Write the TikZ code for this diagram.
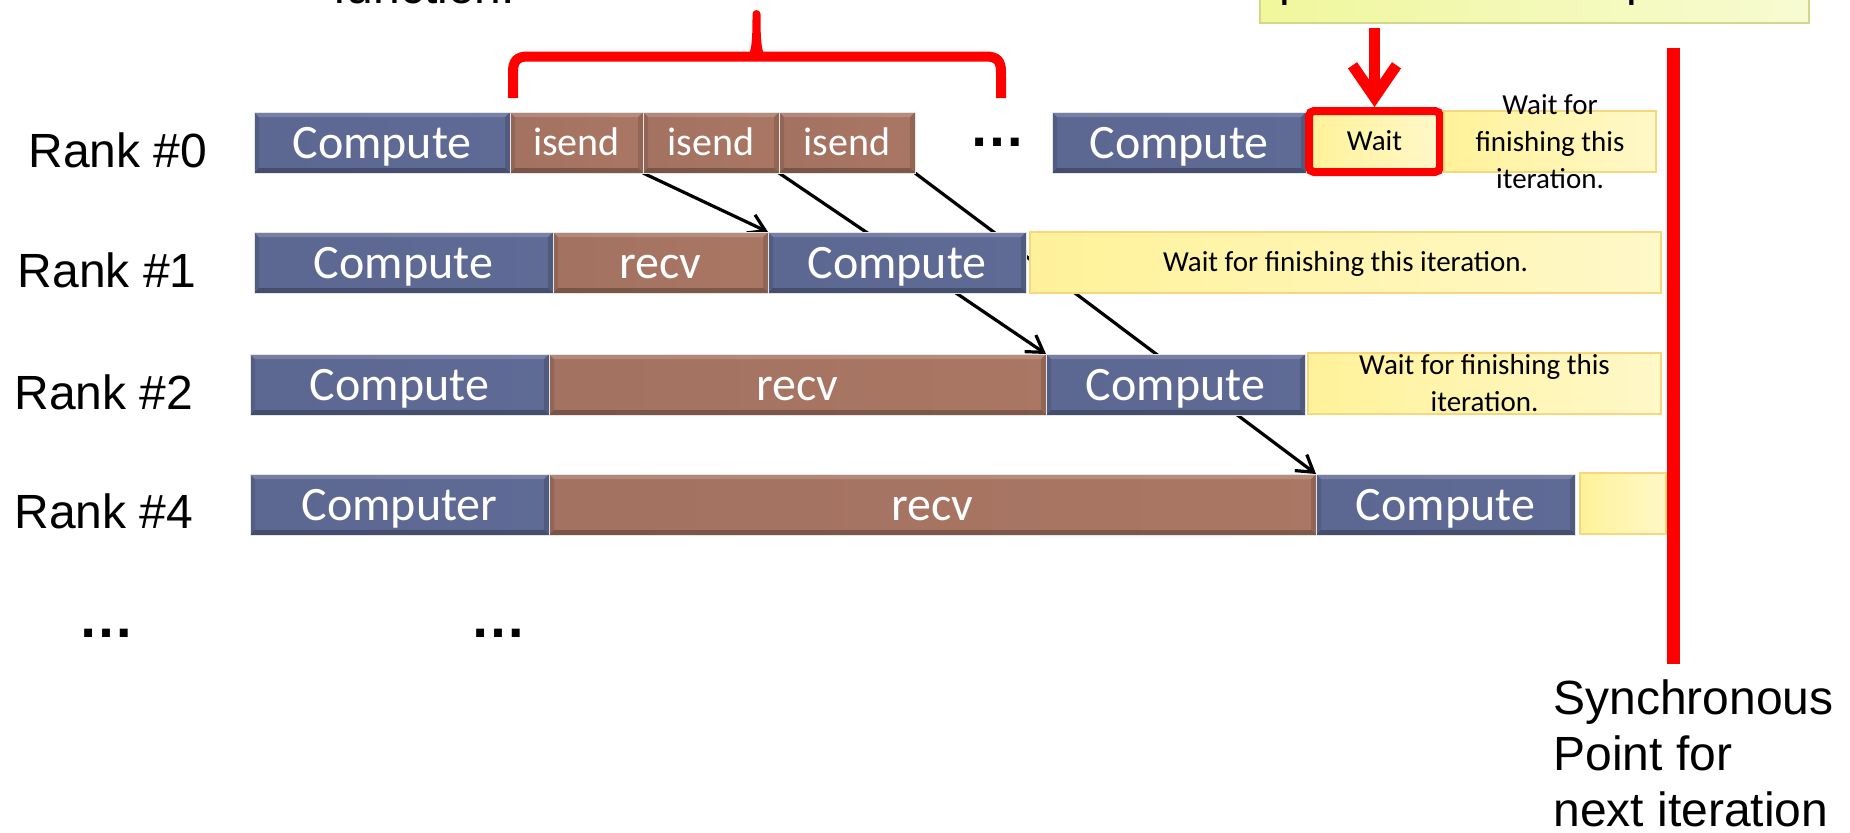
\documentclass[tikz,border=0pt]{standalone}
\usepackage{fontspec}
\setmainfont{Liberation Sans}
\newfontfamily\gill{Carlito}
\usetikzlibrary{arrows.meta}
\pgfdeclarelayer{bg}
\pgfsetlayers{bg,main}
\definecolor{cblue}{HTML}{6773A2}
\definecolor{cbrown}{HTML}{B9816D}
\definecolor{cyel}{HTML}{FFF29A}
\definecolor{cyel2}{HTML}{FFF8C8}
\definecolor{cyelb}{HTML}{F6D77C}
\definecolor{tbox}{HTML}{F0F79C}
\definecolor{tbox2}{HTML}{F7FBD2}
\definecolor{tboxb}{HTML}{D2D78A}
\definecolor{bred}{HTML}{FF0000}
\tikzset{
  bevel/.style={path picture={
    \path (path picture bounding box.south west) coordinate (pbsw)
          (path picture bounding box.north east) coordinate (pbne)
          (path picture bounding box.south east) coordinate (pbse)
          (path picture bounding box.north west) coordinate (pbnw);
    \fill[black,opacity=.25] (pbsw) -- (pbse) -- ([shift={(-2.5pt,2.5pt)}]pbse) -- ([shift={(2.5pt,2.5pt)}]pbsw) -- cycle;
    \fill[black,opacity=.14] (pbse) -- (pbne) -- ([shift={(-2.5pt,-2.5pt)}]pbne) -- ([shift={(-2.5pt,2.5pt)}]pbse) -- cycle;
    \fill[black,opacity=.10] (pbsw) -- (pbnw) -- ([shift={(2.5pt,-2.5pt)}]pbnw) -- ([shift={(2.5pt,2.5pt)}]pbsw) -- cycle;
    \fill[white,opacity=.16] (pbnw) -- (pbne) -- ([shift={(-2.5pt,-2.5pt)}]pbne) -- ([shift={(2.5pt,-2.5pt)}]pbnw) -- cycle;
  }},
  seg/.style={rectangle, inner sep=0pt, outer sep=0pt, draw=white!80!gray, line width=0.5pt, bevel,
    font=\gill\fontsize{24}{28}\selectfont, text=white, text height=15.5pt, text depth=0pt},
  comp/.style={seg, left color=cblue!90!black, middle color=cblue, right color=cblue!92!black},
  comm/.style={seg, left color=cbrown!88!black, middle color=cbrown, right color=cbrown!92!black},
  commsm/.style={comm, font=\gill\fontsize{20}{24}\selectfont, text height=13pt},
  ybox/.style={rectangle, inner sep=0pt, outer sep=0pt, draw=cyelb, line width=0.8pt,
    left color=cyel, right color=cyel2, text=black,
    font=\gill\fontsize{14.5}{18.5}\selectfont, text height=9.4pt, text depth=0pt},
  smalltxt/.style={font=\gill\fontsize{14.5}{18.5}\selectfont, align=center, inner sep=0pt, text=black},
  bigtxt/.style={font=\fontsize{24}{28}\selectfont, inner sep=0pt, text=black},
  dotstxt/.style={font=\bfseries\fontsize{28}{30}\selectfont, inner sep=0pt, text=black},
  ranklbl/.style={bigtxt, anchor=base west},
  msg/.style={draw=black, line width=1.6pt, -{Straight Barb[length=8pt,width=10pt]}},
  redarrow/.style={draw=bred, line width=5.5pt, -{Straight Barb[length=16pt,width=22pt]}},
}
\newcommand\blk[7]{\node[#6, minimum width={(#3-#2)*0.5pt}, minimum height={(#5-#4)*0.5pt}] (#1) at ({(#2+#3)/2},{(#4+#5)/2}) {#7};}
\begin{document}
\begin{tikzpicture}[x=0.5pt,y=-0.5pt]
\useasboundingbox (0,0) rectangle (1850,832);

% top partially visible items
\node[rectangle, draw=tboxb, line width=1.2pt, left color=tbox, right color=tbox2,
  minimum width=274.5pt, minimum height=60pt, inner sep=0pt] (topq) at (1534.5,-37) {};
\node[bigtxt, anchor=base west] (qtext) at (1279,-5) {parallelized computation?};
\node[bigtxt, anchor=base west] (fn) at (333,3) {function.};

% rank labels
\node[ranklbl] (l0) at (28,167) {Rank \#0};
\node[ranklbl] (l1) at (17.5,287) {Rank \#1};
\node[ranklbl] (l2) at (14,409) {Rank \#2};
\node[ranklbl] (l4) at (14,528) {Rank \#4};

% row 0
\blk{r0c1}{254}{510}{112}{173}{comp}{Compute}
\blk{r0s1}{510}{643}{112}{173}{commsm}{isend}
\blk{r0s2}{643}{779}{112}{173}{commsm}{isend}
\blk{r0s3}{779}{915}{112}{173}{commsm}{isend}
\node[dotstxt] (dots0) at (997,142.5) {…};
\blk{r0c2}{1052}{1306}{112}{173}{comp}{Compute}
\node[ybox, draw=bred, line width=4pt, rounded corners=2.5pt, outer sep=2pt,
  minimum width=65.5pt, minimum height=30.5pt] (wait) at (1374.5,141.5) {Wait};
\blk{r0y}{1444}{1656}{111}{172}{ybox}{}
\node[smalltxt] (r0yt) at (r0y.center) {Wait for\\finishing this\\iteration.};

% row 1
\blk{r1c1}{254}{553}{232}{293}{comp}{Compute}
\blk{r1r}{553}{768}{232}{293}{comm}{recv}
\blk{r1c2}{768}{1026}{232}{293}{comp}{Compute}
\blk{r1y}{1030}{1661}{232}{293}{ybox}{Wait for finishing this iteration.}

% row 2
\blk{r2c1}{250}{549}{354}{415}{comp}{Compute}
\blk{r2r}{549}{1046}{354}{415}{comm}{recv}
\blk{r2c2}{1046}{1305}{354}{415}{comp}{Compute}
\blk{r2y}{1308}{1661}{353}{414}{ybox}{}
\node[smalltxt] (r2yt) at (r2y.center) {Wait for finishing this\\iteration.};

% row 4
\blk{r4c1}{250}{549}{474}{535}{comp}{Computer}
\blk{r4r}{549}{1316}{474}{535}{comm}{recv}
\blk{r4c2}{1316}{1575}{474}{535}{comp}{Compute}
\blk{r4y}{1580}{1666}{473}{534}{ybox}{}

% bottom dots
\node[dotstxt] (dotsa) at (106.5,633.5) {…};
\node[dotstxt] (dotsb) at (498.5,633.5) {…};

% synchronous point
\draw[bred, line width=6.5pt] (1673.5,48) coordinate (syncTop) -- (1673.5,664) coordinate (syncBot);
\node[bigtxt, align=left, anchor=north west] (sync) at (1553,679) {Synchronous\\Point for\\next iteration};

% red brace
\draw[bred, line width=5pt] (513,98) -- (513,72) .. controls (513,61) and (517,56.5) .. (528,56.5)
  -- (986,56.5) .. controls (997,56.5) and (1001,61) .. (1001,72) -- (1001,98);
\fill[bred] (744,59) .. controls (752,57) and (752.5,40) .. (752.5,14)
  arc[start angle=180, end angle=360, radius=4]
  .. controls (760.5,40) and (761,57) .. (769,59) -- cycle;

% red arrow to Wait
\coordinate (qa) at (1374.5,28);
\draw[redarrow] (qa) -- (wait.north);

% messages
\begin{pgfonlayer}{bg}
\draw[msg] (r0s1.south east) -- (r1r.north east);
\draw[msg] (r0s2.south east) -- (r2r.north east);
\draw[msg] (r0s3.south east) -- (r4r.north east);
\end{pgfonlayer}
\end{tikzpicture}
\end{document}
